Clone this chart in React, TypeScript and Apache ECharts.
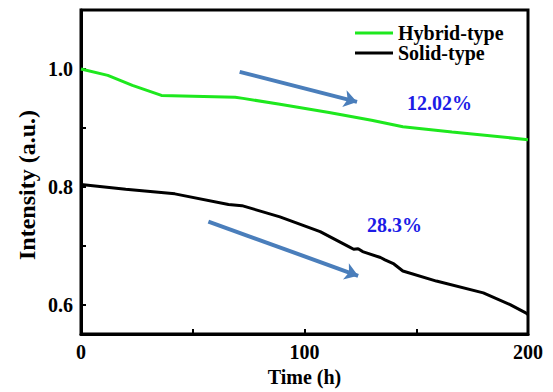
import React, { useEffect, useRef } from "react";
import * as echarts from "echarts";

const hybridTime = [0, 12, 23, 36, 69, 72.5, 89, 111, 130, 144, 166, 200];
const hybridValue = [1.0, 0.989, 0.972, 0.955, 0.952, 0.95, 0.94, 0.926, 0.913, 0.902, 0.893, 0.88];

const solidTime = [0, 20, 42, 66, 72, 89, 107, 120, 122, 124, 126, 134, 136, 140, 144, 159, 180, 192, 199, 200];
const solidValue = [0.804, 0.796, 0.788, 0.77, 0.768, 0.749, 0.724, 0.698, 0.694, 0.695, 0.69, 0.68, 0.676, 0.669, 0.657, 0.64, 0.62, 0.6, 0.586, 0.583];

const xTickValues = [50, 100, 150];
const xLabelValues = [0, 100, 200];
const yTickValues = [0.6, 0.7, 0.8, 0.9, 1.0];
const yLabelValues = [0.6, 0.8, 1.0];

const arrowHybrid = [[71, 0.995], [123.5, 0.944]];
const arrowSolid = [[57, 0.741], [124, 0.649]];

const FONT = "'Liberation Serif', 'Times New Roman', serif";

export default function App() {
  const ref = useRef<HTMLDivElement>(null);
  useEffect(() => {
    if (!ref.current) return;
    const chart = echarts.init(ref.current, undefined, { renderer: "svg" });
    const toPairs = (t: number[], v: number[]) => t.map((x, i) => [x, v[i]]);
    chart.setOption({
      animation: false,
      backgroundColor: "#fff",
      grid: {
        left: 81,
        top: 10,
        right: 25,
        bottom: 51,
        show: true,
        borderColor: "#000",
        borderWidth: 3,
        containLabel: false,
      },
      legend: {
        orient: "vertical",
        left: 355,
        top: 23,
        padding: 0,
        itemWidth: 38,
        itemHeight: 3,
        itemGap: 0,
        icon: "rect",
        data: ["Hybrid-type", "Solid-type"],
        textStyle: { fontFamily: FONT, fontWeight: "bold", fontSize: 20, color: "#000", lineHeight: 20 },
      },
      xAxis: {
        type: "value",
        min: 0,
        max: 200,
        name: "Time (h)",
        nameLocation: "middle",
        nameGap: 29,
        nameTextStyle: { fontFamily: FONT, fontWeight: "bold", fontSize: 20, color: "#000" },
        axisLine: { show: true, lineStyle: { color: "#000", width: 3 } },
        axisTick: { show: true, inside: true, length: 5, customValues: xTickValues, lineStyle: { color: "#000", width: 2 } },
        axisLabel: { customValues: xLabelValues, fontFamily: FONT, fontWeight: "bold", fontSize: 20, color: "#000", margin: 8 },
        splitLine: { show: false },
      },
      yAxis: {
        type: "value",
        min: 0.55,
        max: 1.1,
        axisLine: { show: true, lineStyle: { color: "#000", width: 3 } },
        axisTick: { show: true, inside: true, length: 5, customValues: yTickValues, lineStyle: { color: "#000", width: 2 } },
        axisLabel: {
          customValues: yLabelValues,
          fontFamily: FONT,
          fontWeight: "bold",
          fontSize: 20,
          color: "#000",
          margin: 8,
          formatter: (v: number) => v.toFixed(1),
        },
        splitLine: { show: false },
      },
      series: [
        {
          name: "Hybrid-type",
          type: "line",
          data: toPairs(hybridTime, hybridValue),
          showSymbol: false,
          symbol: "none",
          color: "#1ee81e",
          lineStyle: { color: "#1ee81e", width: 3 },
          markLine: {
            silent: true,
            symbol: ["none", "arrow"],
            symbolSize: [13, 13],
            label: { show: false },
            lineStyle: { color: "#4a7ebb", width: 4, type: "solid" },
            data: [[{ coord: arrowHybrid[0] }, { coord: arrowHybrid[1] }]],
          },
        },
        {
          name: "Solid-type",
          type: "line",
          data: toPairs(solidTime, solidValue),
          showSymbol: false,
          symbol: "none",
          color: "#000",
          lineStyle: { color: "#000", width: 3 },
          markLine: {
            silent: true,
            symbol: ["none", "arrow"],
            symbolSize: [13, 13],
            label: { show: false },
            lineStyle: { color: "#4a7ebb", width: 4, type: "solid" },
            data: [[{ coord: arrowSolid[0] }, { coord: arrowSolid[1] }]],
          },
        },
      ],
      graphic: [
        {
          type: "text",
          x: 27,
          y: 185,
          rotation: Math.PI / 2,
          style: {
            text: "Intensity (a.u.)",
            fill: "#000",
            font: `bold 24px ${FONT}`,
            textAlign: "center",
            textVerticalAlign: "middle",
            verticalAlign: "middle",
          },
        },
        {
          type: "text",
          left: 407,
          top: 93,
          style: { text: "12.02%", fill: "#1c1ce6", font: `bold 20px ${FONT}` },
        },
        {
          type: "text",
          left: 367,
          top: 215,
          style: { text: "28.3%", fill: "#1c1ce6", font: `bold 20px ${FONT}` },
        },
      ],
    });
    return () => chart.dispose();
  }, []);
  return <div ref={ref} style={{ width: 553, height: 392, position: "absolute", left: 0, top: 0 }} />;
}
